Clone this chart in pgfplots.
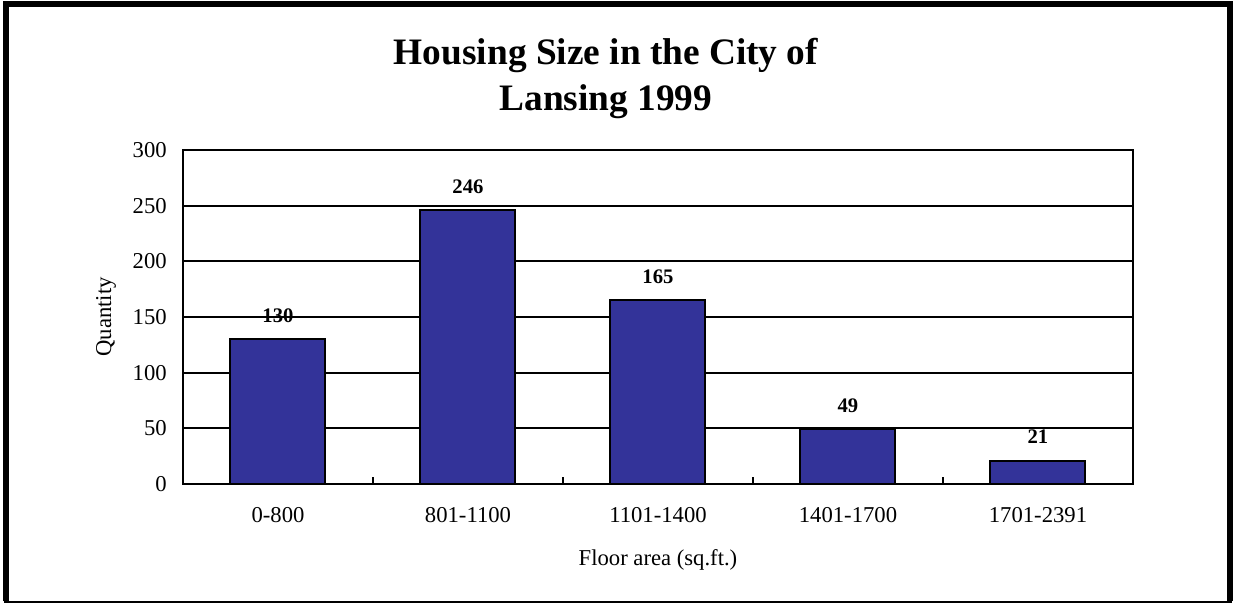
\documentclass[border=0pt]{standalone}
\usepackage{pgfplots}
\pgfplotsset{compat=1.18}
\usepackage{fontspec}
\setmainfont{Liberation Serif}
\definecolor{barblue}{RGB}{51,51,153}
\begin{document}
\begin{tikzpicture}
\useasboundingbox (-137.25pt,-89.25pt) rectangle (787.5pt,363pt);
\draw[line width=4.5pt] (-132.375pt,-88pt) -- (-132.375pt,359.625pt) -- (785.25pt,359.625pt) -- (785.25pt,-88pt);
\draw[line width=1.5pt] (-134pt,-88.25pt) -- (787pt,-88.25pt);
\node[anchor=base,font=\fontsize{28}{32}\selectfont\bfseries] at (317.25pt,314.25pt) {Housing Size in the City of};
\node[anchor=base,font=\fontsize{28}{32}\selectfont\bfseries] at (317.25pt,279.75pt) {Lansing 1999};
\begin{axis}[
  at={(0pt,0pt)}, anchor=south west,
  scale only axis,
  width=712.5pt, height=250.5pt,
  xmin=-0.5, xmax=4.5, ymin=0, ymax=300,
  ytick={0,50,...,300},
  xtick={0,1,2,3,4},
  xticklabels={0-800,801-1100,1101-1400,1401-1700,1701-2391},
  xtick pos=bottom,
  major tick length=0pt,
  extra x ticks={0.5,1.5,2.5,3.5},
  extra x tick labels={},
  extra x tick style={major tick length=5pt, tick align=inside, grid=none, tick style={black,line width=1.5pt}},
  ymajorgrids,
  grid style={black, line width=1.3pt},
  axis line style={black, line width=1.8pt},
  /pgf/number format/assume math mode=true,
  tick label style={font=\fontsize{17}{20}\selectfont},
  xticklabel style={anchor=base, yshift=-29pt},
  yticklabel style={anchor=east, inner sep=0pt, xshift=-12pt},
  xlabel={Floor area (sq.ft.)},
  ylabel={Quantity},
  every axis x label/.style={at={(axis description cs:0.5,0)}, anchor=center, yshift=-57pt, font=\fontsize{17}{20}\selectfont},
  every axis y label/.style={at={(axis description cs:0,0.5)}, xshift=-57.75pt, anchor=center, rotate=90, font=\fontsize{17}{20}\selectfont},
  ybar, bar width=71.25pt,
  nodes near coords,
  nodes near coords align={anchor=base},
  every node near coord/.append style={font=\fontsize{15.5}{18}\selectfont\bfseries, yshift=12.5pt, inner sep=0pt},
]
\addplot[fill=barblue, draw=black, line width=1.5pt] coordinates {(0,130) (1,246) (2,165) (3,49) (4,21)};
\end{axis}
\end{tikzpicture}
\end{document}
